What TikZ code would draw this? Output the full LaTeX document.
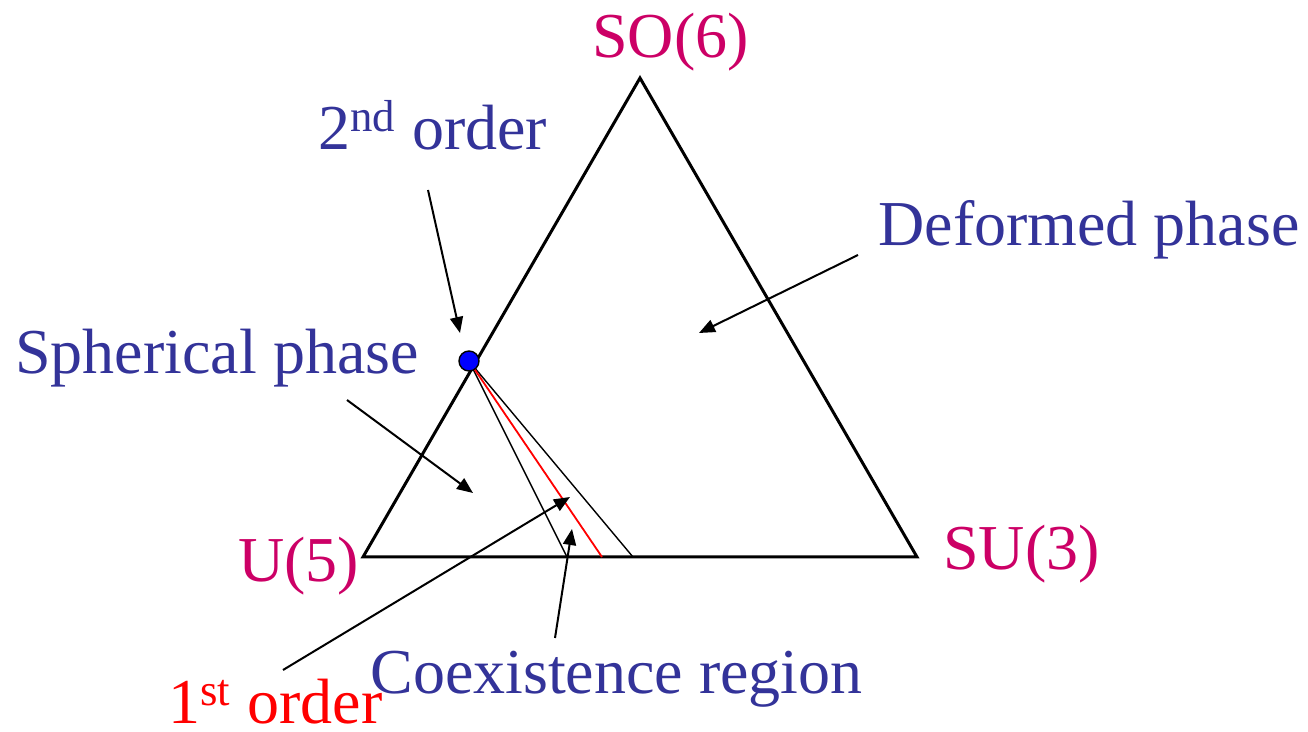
\documentclass[tikz,border=0pt]{standalone}
\usepackage{fontspec}
\setmainfont{Liberation Serif}
\usetikzlibrary{arrows.meta}
\definecolor{grp}{HTML}{CC0066}
\definecolor{phs}{HTML}{333399}
\begin{document}
\begin{tikzpicture}[x=0.5pt,y=-0.5pt,
  lbl/.style={inner sep=0pt,anchor=base west,font=\fontsize{32}{38}\selectfont},
  grouplbl/.style={lbl,text=grp},
  phaselbl/.style={lbl,text=phs},
  pointer/.style={line width=1pt,-{Triangle[length=8pt,width=6.5pt]}},
  edge/.style={line width=1.5pt,line join=miter},
  thin/.style={line width=0.7pt}]
\useasboundingbox (0,0) rectangle (1308,732);
\coordinate (A) at (640,78);
\coordinate (B) at (363,557);
\coordinate (C) at (917,557);
\draw[edge] (A) -- (B) -- (C) -- cycle;
\coordinate (P) at (469,361);
\coordinate (L1) at (567,557);
\coordinate (L2) at (602,557);
\coordinate (L3) at (633,557);
\draw[thin] (P) -- (L1);
\draw[thin] (P) -- (L3);
\draw[line width=0.9pt,red] (P) -- (L2);
\node[circle,draw=black,line width=0.7pt,fill=blue,minimum size=10pt,inner sep=0pt] (dot) at (P) {};
\node[grouplbl] (so6) at (592,58) {SO(6)};
\node[grouplbl] (u5) at (238,582) {U(5)};
\node[grouplbl] (su3) at (943,570) {SU(3)};
\node[phaselbl] (second) at (318,150) {2\textsuperscript{nd} order};
\node[phaselbl] (deformed) at (878,246) {Deformed phase};
\node[phaselbl] (spherical) at (15,374) {Spherical phase};
\node[phaselbl] (coex) at (370,694) {Coexistence region};
\node[lbl,text=red] (first) at (168,724) {1\textsuperscript{st} order};
\coordinate (t2) at (428,190); \coordinate (h2) at (460,333);
\coordinate (td) at (858,255); \coordinate (hd) at (699,333);
\coordinate (ts) at (347,400); \coordinate (hs) at (473,493);
\coordinate (t1) at (283,670); \coordinate (h1) at (570,497);
\coordinate (tc) at (555,638); \coordinate (hc) at (572,529);
\draw[pointer] (t2) -- (h2);
\draw[pointer] (td) -- (hd);
\draw[pointer] (ts) -- (hs);
\draw[pointer] (t1) -- (h1);
\draw[pointer] (tc) -- (hc);
\end{tikzpicture}
\end{document}
